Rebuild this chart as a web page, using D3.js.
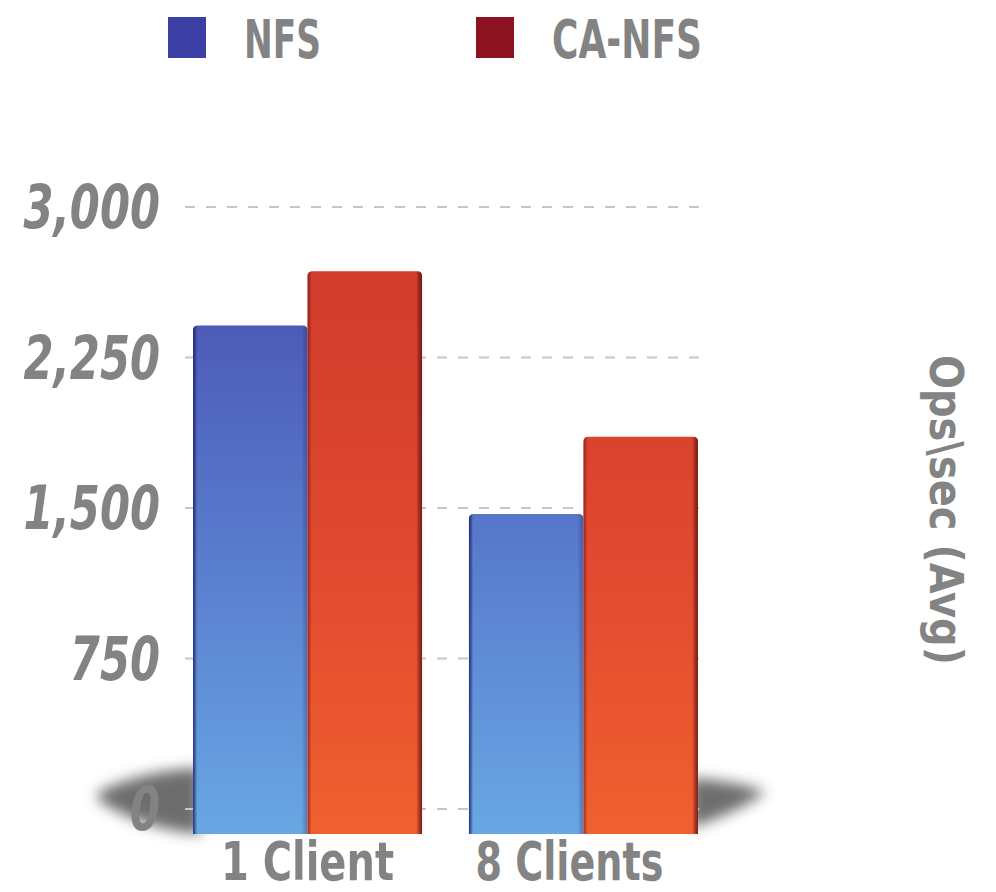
<!DOCTYPE html>
<html>
<head>
<meta charset="utf-8">
<script src="https://cdn.jsdelivr.net/npm/d3@7"></script>
<style>
  html, body { margin: 0; padding: 0; background: #ffffff; }
  svg { display: block; }
  text { font-family: "DejaVu Sans Condensed", "DejaVu Sans", sans-serif; font-weight: bold; fill: #838383; }
</style>
</head>
<body>
<svg id="chart" width="996" height="892"></svg>
<script>
// Average operations per second, NFS vs CA-NFS
const categories = ["1 Client", "8 Clients"];
const seriesNames = ["NFS", "CA-NFS"];
const nfsValues = [2410, 1470];
const caNfsValues = [2680, 1855];
const tickValues = [0, 750, 1500, 2250, 3000];
const tickLabels = ["0", "750", "1,500", "2,250", "3,000"];
const axisTitle = "Ops\\sec (Avg)";

const seriesValues = { "NFS": nfsValues, "CA-NFS": caNfsValues };

const svg = d3.select("#chart");
const defs = svg.append("defs");

const y = d3.scaleLinear().domain([0, 3000]).range([809, 207]);
const floorY = y(0) + 25;          // bars stand on a floor slightly in front of the zero line
const x0 = d3.scaleBand().domain(categories).range([193, 698]).paddingInner(0.17).paddingOuter(0);
const x1 = d3.scaleBand().domain(seriesNames).range([0, x0.bandwidth()]).padding(0);

const legendColor = d3.scaleOrdinal().domain(seriesNames).range(["#3b3fa6", "#8c1222"]);

// vertical fills (absolute coordinates so shorter bars start lighter)
const fills = {
  "NFS": ["#4952b2", "#5a7fcf", "#69a7e4"],
  "CA-NFS": ["#cf3c2c", "#e24a30", "#f0602f"]
};
seriesNames.forEach((s, i) => {
  const g = defs.append("linearGradient").attr("id", "fill" + i)
    .attr("gradientUnits", "userSpaceOnUse")
    .attr("x1", 0).attr("x2", 0).attr("y1", 260).attr("y2", floorY);
  g.append("stop").attr("offset", 0).attr("stop-color", fills[s][0]);
  g.append("stop").attr("offset", 0.55).attr("stop-color", fills[s][1]);
  g.append("stop").attr("offset", 1).attr("stop-color", fills[s][2]);
});
// darker side edges
const edges = {
  "NFS": ["rgba(30,35,140,0.85)", "rgba(40,50,150,0.35)"],
  "CA-NFS": ["rgba(130,15,20,0.55)", "rgba(120,10,15,0.8)"]
};
seriesNames.forEach((s, i) => {
  const g = defs.append("linearGradient").attr("id", "edge" + i)
    .attr("x1", 0).attr("x2", 1).attr("y1", 0).attr("y2", 0);
  g.append("stop").attr("offset", 0).attr("stop-color", edges[s][0]);
  g.append("stop").attr("offset", 0.035).attr("stop-color", "rgba(0,0,0,0)");
  g.append("stop").attr("offset", 0.95).attr("stop-color", "rgba(0,0,0,0)");
  g.append("stop").attr("offset", 1).attr("stop-color", edges[s][1]);
});

const blur = defs.append("filter").attr("id", "soft")
  .attr("x", "-30%").attr("y", "-60%").attr("width", "160%").attr("height", "220%");
blur.append("feGaussianBlur").attr("stdDeviation", 7);

// ground shadow on both sides of the bar block
const left = x0.range()[0], right = x0.range()[1];
const shadow = svg.append("g").attr("filter", "url(#soft)").attr("fill", "#4a4a4a").attr("opacity", 0.8);
shadow.append("path").attr("d",
  `M ${left - 95} 792 Q ${left - 50} 770 ${left + 8} 768 L ${left + 8} ${floorY} Q ${left - 50} 830 ${left - 95} 800 Z`);
shadow.append("path").attr("d",
  `M ${right - 8} 778 Q ${right + 35} 780 ${right + 68} 792 Q ${right + 40} 812 ${right - 8} 828 Z`);

// dashed grid lines
svg.append("g").selectAll("line").data(tickValues).join("line")
  .attr("x1", 185).attr("x2", 708)
  .attr("y1", d => y(d)).attr("y2", d => y(d))
  .attr("stroke", "#c6c6c6").attr("stroke-width", 2)
  .attr("stroke-dasharray", "10,11");

// tick labels
const ticks = svg.append("g").selectAll("text").data(tickValues).join("text")
  .attr("x", 160).attr("y", d => y(d) + 21)
  .attr("text-anchor", "end")
  .attr("font-size", 60).attr("font-style", "italic")
  .attr("fill", "#7e7e7e")
  .text((d, i) => tickLabels[i]);
ticks.each(function () {
  const w = this.getComputedTextLength();
  d3.select(this).attr("textLength", w * 0.8).attr("lengthAdjust", "spacingAndGlyphs");
});

// bars
const barPath = (x, top, w, bottom) => {
  const r = 5;
  return `M ${x} ${bottom} L ${x} ${top + r} Q ${x} ${top} ${x + r} ${top} L ${x + w - r} ${top} Q ${x + w} ${top} ${x + w} ${top + r} L ${x + w} ${bottom} Z`;
};
const groups = svg.append("g").selectAll("g").data(categories).join("g")
  .attr("transform", d => `translate(${x0(d)},0)`);
groups.each(function (cat, ci) {
  const g = d3.select(this);
  seriesNames.forEach((s, si) => {
    const v = seriesValues[s][ci];
    const d = barPath(x1(s), y(v), x1.bandwidth(), floorY);
    g.append("path").attr("d", d).attr("fill", `url(#fill${si})`);
    g.append("path").attr("d", d).attr("fill", `url(#edge${si})`);
  });
});

// category labels
const catWidths = [173, 188];
svg.append("g").selectAll("text").data(categories).join("text")
  .attr("x", d => x0(d) + x0.bandwidth() / 2 - (d === categories[1] ? 14 : 0))
  .attr("y", 880)
  .attr("text-anchor", "middle")
  .attr("font-size", 54)
  .attr("textLength", (d, i) => catWidths[i]).attr("lengthAdjust", "spacingAndGlyphs")
  .text(d => d);

// legend
const legendX = [168, 476];
const legendW = [77, 150];
const legend = svg.append("g").selectAll("g").data(seriesNames).join("g")
  .attr("transform", (d, i) => `translate(${legendX[i]},0)`);
legend.append("rect").attr("x", 0).attr("y", 17).attr("width", 38).attr("height", 41)
  .attr("fill", d => legendColor(d));
legend.append("text").attr("x", 76).attr("y", 58)
  .attr("font-size", 54)
  .attr("textLength", (d, i) => legendW[i]).attr("lengthAdjust", "spacingAndGlyphs")
  .text(d => d);

// value axis title on the right
svg.append("text")
  .attr("transform", "translate(946,510) rotate(90)")
  .attr("text-anchor", "middle").attr("dy", "0.35em")
  .attr("font-size", 46)
  .attr("textLength", 310).attr("lengthAdjust", "spacingAndGlyphs")
  .text(axisTitle);
</script>
</body>
</html>
